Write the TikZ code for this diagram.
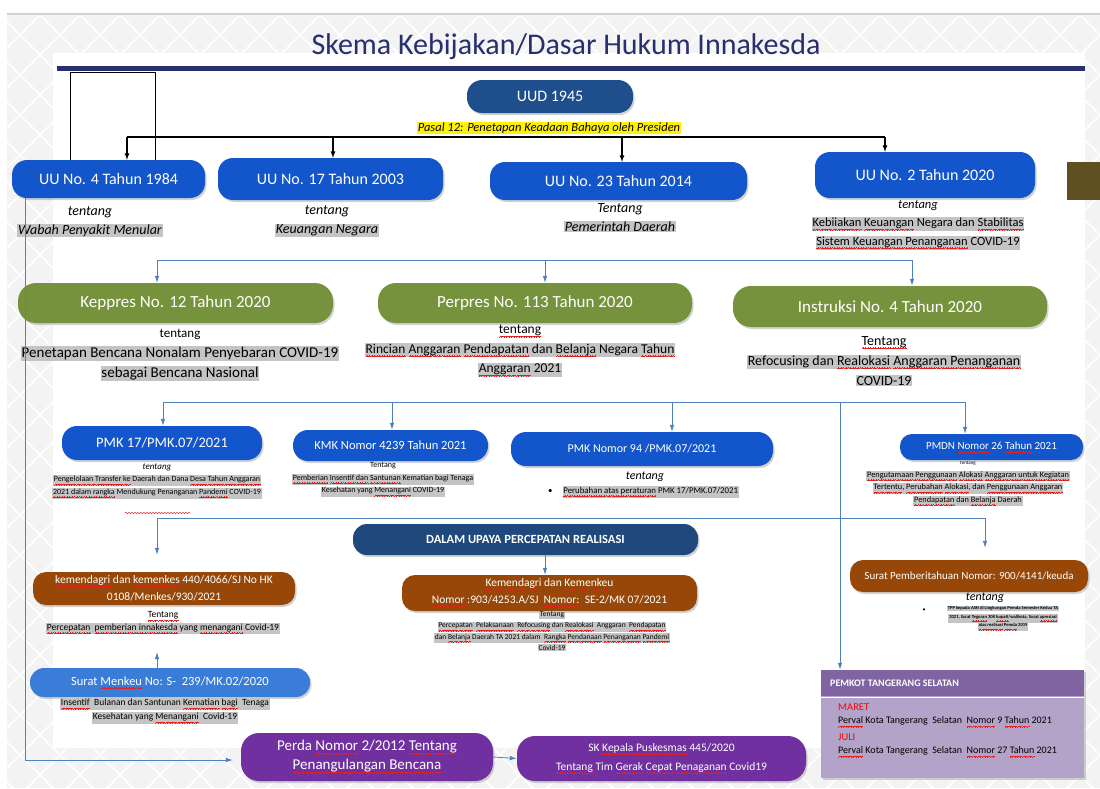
\documentclass[tikz,border=0pt]{standalone}
\usepackage{fontspec}
\setmainfont{Carlito}
\usetikzlibrary{arrows.meta,shadows,decorations.pathmorphing}

\definecolor{navy}{RGB}{40,46,112}
\definecolor{uublue}{RGB}{19,86,204}
\definecolor{uuddark}{RGB}{31,78,140}
\definecolor{dalamblue}{RGB}{31,73,125}
\definecolor{lawgreen}{RGB}{118,146,60}
\definecolor{lawbrown}{RGB}{151,72,8}
\definecolor{menkeublue}{RGB}{58,125,216}
\definecolor{perdapurple}{RGB}{112,48,160}
\definecolor{pemhead}{RGB}{128,100,162}
\definecolor{pembody}{RGB}{180,163,201}
\definecolor{oliveblock}{RGB}{94,80,32}
\definecolor{linkblue}{RGB}{79,129,189}
\definecolor{hlgray}{RGB}{196,196,196}
\definecolor{bgpat}{RGB}{243,243,243}
\definecolor{wavered}{RGB}{230,30,30}

\newbox\sqbox
\newcommand\wavebit{\hbox{{\color{wavered}\rule[-3.5pt]{.6pt}{.55pt}\rule[-3pt]{.6pt}{.55pt}\rule[-2.5pt]{.6pt}{.55pt}\rule[-3pt]{.6pt}{.55pt}}}}
\newcommand\sq[1]{\leavevmode\setbox\sqbox=\hbox{#1}\rlap{\hbox to \wd\sqbox{\xleaders\wavebit\hfil}}\box\sqbox}
\newcommand\hl[1]{{\setlength{\fboxsep}{0.8pt}\colorbox{hlgray}{#1}}}

\tikzset{
  law/.style={rounded corners=15pt, inner sep=0pt, text=white, align=center,
    drop shadow={opacity=.35,shadow xshift=1.5pt,shadow yshift=-2pt}},
  uu/.style={law, fill=uublue, font=\fontsize{16}{18}\selectfont},
  greenlaw/.style={law, rounded corners=18pt, fill=lawgreen, font=\fontsize{17}{19}\selectfont},
  brownlaw/.style={law, rounded corners=13pt, fill=lawbrown, font=\fontsize{11.5}{17}\selectfont},
  purplelaw/.style={law, rounded corners=18pt, fill=perdapurple},
  about/.style={inner sep=0pt, align=center, text=black},
  link/.style={draw=linkblue, line width=.8pt},
  tip/.style={-{Latex[length=7pt,width=4.5pt]}},
}

\begin{document}
\begin{tikzpicture}[x=1pt,y=-1pt]
  \useasboundingbox (0,0) rectangle (1100,788);

  % background
  \fill[white] (0,0) rectangle (1100,788);
  \begin{scope}
    \clip (7,15) rectangle (1100,788);
    \fill[bgpat] (7,15) rectangle (1100,788);
    \foreach \k in {-800,-760,...,1100}{
      \draw[white,line width=1.5pt] (\k,15) -- ++(780,780);
      \draw[white,line width=1.5pt] (\k+800,15) -- ++(-780,780);
    }
  \end{scope}
  \fill[white] (53,53) rectangle (1085,748);
  \draw[gray!35,line width=2pt] (7,14) -- (1100,14);

  \node[text=navy, inner sep=0pt, font=\fontsize{30}{32}\selectfont] (title) at (566,47) {Skema Kebijakan/Dasar Hukum Innakesda};
  \draw[navy, line width=5pt] (57,68) -- (1085,68);
  \fill[oliveblock] (1067,162) rectangle (1100,200);

  % UUD and UU row
  \node[law, fill=uuddark, minimum width=166, minimum height=33, font=\fontsize{16}{18}\selectfont] (UUD) at (550,96.5) {UUD 1945};
  \node[fill=yellow, inner sep=1pt, font=\itshape\fontsize{12.5}{14}\selectfont] (pasal) at (549,128) {Pasal 12: Penetapan Keadaan Bahaya oleh Presiden};

  \node[uu, minimum width=193, minimum height=38] (UU4) at (108.5,179) {UU No. 4 Tahun 1984};
  \node[uu, minimum width=225, minimum height=42] (UU17) at (330.5,179) {UU No. 17 Tahun 2003};
  \node[uu, minimum width=257, minimum height=38] (UU23) at (618.5,181) {UU No. 23 Tahun 2014};
  \node[uu, minimum width=220, minimum height=46] (UU2) at (925,175) {UU No. 2 Tahun 2020};

  \coordinate (ka) at (70,72);
  \coordinate (kb) at (155,72);
  \draw[black] (ka |- UU4.north) -- (ka) -- (kb) -- (kb |- UU4.north);

  \coordinate (busL) at (127,137);
  \coordinate (busR) at (885,137);
  \draw[black, line width=1.2pt] (busL) -- (busR);
  \foreach \n/\x in {UU4/127,UU17/333,UU23/622,UU2/885}{
    \coordinate (b\n) at (\x,137);
    \draw[black, line width=1.2pt, -latex] (b\n) -- (b\n |- \n.north);
  }

  \node[about, font=\itshape\fontsize{14}{19}\selectfont] (UU4d) at (90,222) {tentang\\\hl{Wabah Penyakit Menular}};
  \node[about, font=\itshape\fontsize{14}{19}\selectfont] (UU17d) at (327,221) {tentang\\\hl{Keuangan Negara}};
  \node[about, font=\itshape\fontsize{14}{19}\selectfont] (UU23d) at (620,218) {Tentang\\\hl{Pemerintah Daerah}};
  \node[about, font=\fontsize{12.5}{18.5}\selectfont] (UU2d) at (918,225) {{\itshape tentang}\\\hl{\sq{Kebiiakan} \sq{Keuangan} Negara dan \sq{Stabilitas}}\\\hl{\sq{Sistem Keuangan Penanganan} COVID-19}};

  % green row
  \node[greenlaw, minimum width=315, minimum height=40] (Keppres) at (175.5,303) {Keppres No. 12 Tahun 2020};
  \node[greenlaw, minimum width=314, minimum height=40] (Perpres) at (535,303) {Perpres No. 113 Tahun 2020};
  \node[greenlaw, minimum width=314, minimum height=41] (Instruksi) at (890,306.5) {Instruksi No. 4 Tahun 2020};

  \coordinate (gL) at (157,260);
  \coordinate (gR) at (912,260);
  \draw[link] (gL) -- (gR);
  \foreach \n/\x in {Keppres/157,Perpres/545,Instruksi/912}{
    \coordinate (g\n) at (\x,260);
    \draw[link, tip] (g\n) -- (g\n |- \n.north);
  }

  \node[about, font=\fontsize{15}{20}\selectfont] (Keppresd) at (180,355) {{\fontsize{13}{15}\selectfont tentang}\\\hl{Penetapan Bencana Nonalam Penyebaran COVID-19}\\\hl{sebagai Bencana Nasional}};
  \node[about, font=\fontsize{13.5}{19.5}\selectfont] (Perpresd) at (520,351) {\sq{tentang}\\\hl{\sq{Rincian} \sq{Anggaran} \sq{Pendapatan} dan \sq{Belanja} Negara \sq{Tahun}}\\\hl{\sq{Anggaran} 2021}};
  \node[about, font=\fontsize{14}{20}\selectfont] (Instruksid) at (884,361) {\sq{Tentang}\\\hl{Refocusing dan \sq{Realokasi} \sq{Anggaran Penanganan}}\\\hl{COVID-19}};

  % PMK row
  \node[uu, minimum width=200, minimum height=34, font=\fontsize{14.5}{16}\selectfont] (PMK17) at (162,443) {PMK 17/PMK.07/2021};
  \node[uu, minimum width=195, minimum height=31, font=\fontsize{12.5}{14}\selectfont] (KMK) at (390.5,445.5) {KMK Nomor 4239 Tahun 2021};
  \node[uu, minimum width=262, minimum height=34, font=\fontsize{12}{14}\selectfont] (PMK94) at (642,449) {PMK Nomor 94 /PMK.07/2021};
  \node[uu, rounded corners=12pt, minimum width=183, minimum height=26, font=\fontsize{11}{13}\selectfont] (PMDN) at (991.5,447) {PMDN \sq{Nomor} 26 \sq{Tahun} 2021};

  \coordinate (pL) at (163,402);
  \coordinate (pR) at (965,402);
  \draw[link] (pL) -- (pR);
  \foreach \n/\x in {PMK17/163,KMK/392,PMK94/672,PMDN/965}{
    \coordinate (p\n) at (\x,402);
    \draw[link, tip] (p\n) -- (p\n |- \n.north);
  }

  \node[about, font=\fontsize{8}{12.5}\selectfont] (PMK17d) at (157,481) {{\itshape\fontsize{9}{10}\selectfont tentang}\\\hl{\sq{Pengelolaan Transfer ke} Daerah dan Dana \sq{Desa Tahun Anggaran}}\\\hl{\sq{2021 dalam rangka} Mendukung Penanganan \sq{Pandemi} COVID-19}};
  \draw[wavered, decorate, decoration={snake, amplitude=.9pt, segment length=3pt}] (125,513) -- (190,513);
  \node[about, font=\fontsize{8}{12.5}\selectfont] (KMKd) at (383,480) {Tentang\\\hl{\sq{Pemberian} \sq{Insentif dan} \sq{Santunan} Kematian bagi Tenaga}\\\hl{Kesehatan yang \sq{Menangani} COVID-19}};
  \node[about, font=\itshape\fontsize{12}{14}\selectfont] (PMK94t) at (645,477) {tentang};
  \node[about, anchor=west, font=\fontsize{8.8}{11}\selectfont] (PMK94d) at (548,492) {\textbullet\hspace{10pt}\hl{\sq{Perubahan atas peraturan} PMK 17/PMK.07/2021}};
  \node[about, font=\fontsize{8.3}{12.5}\selectfont] (PMDNd) at (968,484) {{\fontsize{5}{6}\selectfont tentang}\\\hl{\sq{Pengutamaan Penggunaan} \sq{Alokasi} \sq{Anggaran untuk Kegiatan}}\\\hl{\sq{Tertentu}, \sq{Perubahan} \sq{Alokasi}, dan \sq{Penggunaan Anggaran}}\\\hl{\sq{Pendapatan} dan \sq{Belanja} Daerah}};

  % lower part
  \node[law, rounded corners=14pt, fill=dalamblue, minimum width=345, minimum height=31, font=\bfseries\fontsize{12.5}{14}\selectfont] (Dalam) at (525.5,539.5) {DALAM UPAYA PERCEPATAN REALISASI};

  \node[brownlaw, minimum width=262, minimum height=33] (KemenL) at (164,588.5) {\sq{kemendagri} dan \sq{kemenkes} 440/4066/SJ No HK\\0108/Menkes/930/2021};
  \node[brownlaw, minimum width=295, minimum height=36] (KemenM) at (549.5,593) {\sq{Kemendagri} dan \sq{Kemenkeu}\\\sq{Nomor} :903/4253.A/SJ\ \ \sq{Nomor}:\ \ SE-2/MK 07/2021};
  \node[brownlaw, minimum width=238, minimum height=32, font=\fontsize{11}{13}\selectfont] (Surat) at (969,576) {Surat Pemberitahuan Nomor: 900/4141/keuda};

  \coordinate (rL) at (157,518);
  \coordinate (rR) at (985,518);
  \draw[link] (rL) -- (rR);
  \draw[link, tip, shorten >=17pt] (rL) -- (rL |- KemenL.north);
  \draw[link, tip, shorten >=12pt] (rR) -- (rR |- Surat.north);
  \coordinate (dk) at (545,555);
  \draw[link, tip] (dk) -- (dk |- KemenM.north);

  \node[about, font=\fontsize{9.5}{12.5}\selectfont] (KemenLd) at (163,623) {\sq{Tentang}\\\hl{\sq{Percepatan}\ \ \sq{pemberian innakesda} yang \sq{menangani} Covid-19}};
  \node[about, font=\fontsize{7.5}{11.3}\selectfont] (KemenMd) at (552,631) {\hl{Tentang}\\\hl{\sq{Percepatan}\ \ \sq{Pelaksanaan}\ \ \sq{Refocusing} dan \sq{Realokasi}\ \ Anggaran\ \ \sq{Pendapatan}}\\\hl{dan \sq{Belanja} Daerah TA 2021 dalam\ \ \sq{Rangka} \sq{Pendanaan} \sq{Penanganan} \sq{Pandemi}}\\\hl{Covid-19}};
  \node[about, font=\itshape\fontsize{12}{14}\selectfont] (Suratt) at (985,598) {tentang};
  \node[about, font=\bfseries\fontsize{4.6}{8.5}\selectfont] (Suratd) at (1003,618.5) {\hl{TPP kepada ASN di Lingkungan Pemda Semester Kedua TA}\\\hl{2021, Surat \sq{Teguran} 308 \sq{bupati}/walikota, Surat \sq{apresiasi}}\\\hl{\sq{atas realisasi} \sq{Pemda} 2019}};
  \node[about, font=\fontsize{6}{7}\selectfont] (Suratb) at (924,610) {\textbullet};

  \node[law, rounded corners=14pt, fill=menkeublue, minimum width=280, minimum height=29, font=\fontsize{12.5}{14}\selectfont] (Menkeu) at (170,682.5) {Surat \sq{Menkeu} No: S-\ \ 239/MK.02/2020};
  \coordinate (mu) at (157,652);
  \draw[link, tip] (mu |- Menkeu.north) -- (mu);
  \node[about, font=\fontsize{9.5}{14}\selectfont] (Menkeud) at (165,711) {\hl{\sq{Insentif}\ \ Bulanan dan Santunan \sq{Kematian} \sq{bagi}\ \ Tenaga}\\\hl{Kesehatan yang \sq{Menangani}\ \ Covid-19}};

  % bottom row
  \node[purplelaw, minimum width=252, minimum height=48, font=\fontsize{15}{19}\selectfont] (Perda) at (367,757) {Perda \sq{Nomor} 2/2012 \sq{Tentang}\\\sq{Penangulangan Bencana}};
  \node[purplelaw, minimum width=289, minimum height=45, font=\fontsize{11.5}{19}\selectfont] (SK) at (661.5,758.5) {SK \sq{Kepala Puskesmas} 445/2020\\\sq{Tentang} Tim \sq{Gerak} \sq{Cepat} \sq{Penaganan} Covid19};
  \draw[link, tip] (Perda.east) -- (SK.west);

  \coordinate (lt) at (25,198);
  \coordinate (lb) at (25,760);
  \draw[link, tip, shorten >=8pt] (lt) -- (lb) -- (lb -| Perda.west);

  % Pemkot
  \node[fill=pembody, inner sep=0pt, minimum width=263, minimum height=108,
    drop shadow={opacity=.35,shadow xshift=1.5pt,shadow yshift=-2pt}] (Pemkot) at (952.5,724) {};
  \fill[pemhead] (Pemkot.north west) rectangle (1084,696);
  \draw[white, line width=1pt] (821,697) -- (1084,697);
  \node[anchor=west, text=white, inner sep=0pt, font=\bfseries\fontsize{10}{12}\selectfont] (PemkotH) at (830,683) {PEMKOT TANGERANG SELATAN};
  \node[anchor=west, text=red, inner sep=0pt, font=\fontsize{10.5}{12}\selectfont] (maret) at (838,707) {MARET};
  \node[anchor=west, inner sep=0pt, font=\fontsize{10}{12}\selectfont] (perval9) at (838,722) {\sq{Perval} Kota Tangerang\ \ Selatan\ \ \sq{Nomor} 9 \sq{Tahun} 2021};
  \node[anchor=west, text=red, inner sep=0pt, font=\fontsize{10.5}{12}\selectfont] (juli) at (838,737) {JULI};
  \node[anchor=west, inner sep=0pt, font=\fontsize{10}{12}\selectfont] (perval27) at (838,752) {\sq{Perval} Kota Tangerang\ \ Selatan\ \ \sq{Nomor} 27 \sq{Tahun} 2021};

  \coordinate (pk) at (840,402);
  \draw[link, tip] (pk) -- (pk |- Pemkot.north);
\end{tikzpicture}
\end{document}
